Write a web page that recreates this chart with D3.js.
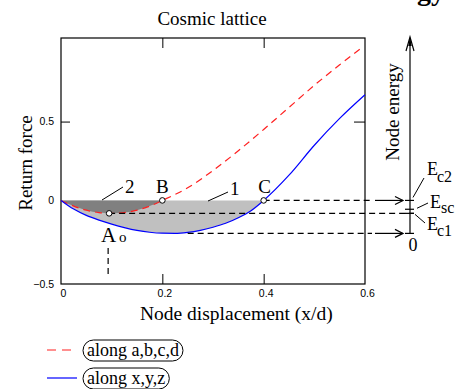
<!DOCTYPE html>
<html>
<head>
<meta charset="utf-8">
<style>
  body { margin: 0; background: #fff; }
  svg { display: block; font-family: "Liberation Serif", "Times New Roman", serif; }
  .tick text { font-family: "Liberation Sans", Arial, sans-serif; font-size: 10.5px; fill: #000; }
  .tick line { stroke: #000; }
  .lbl { font-size: 19px; fill: #000; }
  .guide { stroke: #000; stroke-width: 1.2; stroke-dasharray: 6,4; fill: none; }
  .solid { stroke: #000; stroke-width: 1.2; fill: none; }
</style>
</head>
<body>
<script src="https://cdn.jsdelivr.net/npm/d3@7"></script>
<script>

// values
var redX  = [0, 0.025, 0.05, 0.075, 0.1, 0.125, 0.15, 0.175, 0.2, 0.25, 0.3, 0.35, 0.4, 0.45, 0.5, 0.55, 0.59],
    redY  = [0, -0.036, -0.062, -0.077, -0.082, -0.077, -0.062, -0.036, 0, 0.08, 0.19, 0.315, 0.45, 0.59, 0.73, 0.86, 0.96],
    blueX = [0, 0.025, 0.05, 0.075, 0.1, 0.125, 0.15, 0.175, 0.2, 0.225, 0.25, 0.275, 0.3, 0.325, 0.35, 0.375, 0.4, 0.45, 0.5, 0.55, 0.6],
    blueY = [0, -0.055, -0.095, -0.125, -0.15, -0.172, -0.19, -0.202, -0.208, -0.209, -0.203, -0.19, -0.17, -0.145, -0.11, -0.065, 0, 0.16, 0.35, 0.52, 0.67],
    xTicks = [0, 0.2, 0.4, 0.6],
    yTicks = [-0.53, 0, 0.5],
    pointNames = ["A", "B", "C"],
    pointX = [0.095, 0.2, 0.4],
    pointY = [-0.082, 0, 0],
    energyY = [0, -0.056, -0.082, -0.209],
    energySubs = ["c2", "sc", "c1"],
    legendNames = ["along a,b,c,d", "along x,y,z"];

var width = 461, height = 389,
    mLeft = 61, mRight = 365, mTop = 38, mBottom = 284,
    eAxisX = 410;

var x = d3.scaleLinear().domain([0, 0.6]).range([mLeft, mRight]);
var y = d3.scaleLinear().domain([-0.53, 1.03]).range([mBottom, mTop]);

var svg = d3.select("body").append("svg")
    .attr("width", width)
    .attr("height", height);

var redPts = redX.map(function(d, i) { return [d, redY[i]]; }),
    bluePts = blueX.map(function(d, i) { return [d, blueY[i]]; });

var area = d3.area()
    .curve(d3.curveMonotoneX)
    .x(function(d) { return x(d[0]); })
    .y0(y(0))
    .y1(function(d) { return y(d[1]); });

var line = d3.line()
    .curve(d3.curveMonotoneX)
    .x(function(d) { return x(d[0]); })
    .y(function(d) { return y(d[1]); });

// shaded regions 1 and 2
svg.append("path")
    .attr("d", area(bluePts.filter(function(d) { return d[0] <= pointX[2]; })))
    .attr("fill", "#c0c0c0");
svg.append("path")
    .attr("d", area(redPts.filter(function(d) { return d[0] <= pointX[1]; })))
    .attr("fill", "#808080");

// frame and ticks
svg.append("rect")
    .attr("x", mLeft).attr("y", mTop)
    .attr("width", mRight - mLeft).attr("height", mBottom - mTop)
    .attr("fill", "none").attr("stroke", "#000").attr("stroke-width", 1.2);

var fmt = function(d) { return d === 0 ? "0" : d3.format(".1f")(d); };

var xAxis = svg.append("g")
    .attr("transform", "translate(0," + mBottom + ")")
    .call(d3.axisBottom(x).tickValues(xTicks).tickSizeInner(-10).tickSizeOuter(0).tickPadding(6).tickFormat(fmt));
xAxis.select(".domain").remove();
xAxis.selectAll(".tick text").attr("dx", "2");
xAxis.selectAll(".tick line").filter(function(d) { return d === 0 || d === 0.6; }).remove();

var yAxis = svg.append("g")
    .attr("transform", "translate(" + mLeft + ",0)")
    .call(d3.axisLeft(y).tickValues(yTicks).tickSizeInner(-9).tickSizeOuter(0).tickPadding(7).tickFormat(fmt));
yAxis.select(".domain").remove();
yAxis.selectAll(".tick line").filter(function(d) { return d !== 0.5; }).remove();

var topAxis = svg.append("g")
    .attr("transform", "translate(0," + mTop + ")")
    .call(d3.axisTop(x).tickValues([0.2, 0.4]).tickSizeInner(-10).tickSizeOuter(0).tickFormat(""));
topAxis.select(".domain").remove();

var rightAxis = svg.append("g")
    .attr("transform", "translate(" + mRight + ",0)")
    .call(d3.axisRight(y).tickValues([0.5]).tickSizeInner(-11).tickSizeOuter(0).tickFormat(""));
rightAxis.select(".domain").remove();

// curves
svg.append("path")
    .attr("d", line(redPts))
    .attr("fill", "none")
    .attr("stroke", "#ff2020")
    .attr("stroke-width", 1.2)
    .attr("stroke-dasharray", "7,5");
svg.append("path")
    .attr("d", line(bluePts))
    .attr("fill", "none")
    .attr("stroke", "#0000ff")
    .attr("stroke-width", 1.2);

// dashed guides to the energy axis
svg.append("line").attr("class", "guide")
    .attr("x1", x(pointX[2])).attr("x2", 372)
    .attr("y1", y(energyY[0])).attr("y2", y(energyY[0]));
svg.append("line").attr("class", "guide")
    .attr("x1", x(pointX[0])).attr("x2", eAxisX + 4)
    .attr("y1", y(energyY[2])).attr("y2", y(energyY[2]));
svg.append("line").attr("class", "guide")
    .attr("x1", x(0.25)).attr("x2", 372)
    .attr("y1", y(energyY[3])).attr("y2", y(energyY[3]));
svg.append("line").attr("class", "guide")
    .attr("x1", x(pointX[0]) - 1).attr("x2", x(pointX[0]) - 1)
    .attr("y1", 248).attr("y2", 274);

[energyY[0], energyY[3]].forEach(function(v) {
  var yy = y(v);
  svg.append("line").attr("class", "solid")
      .attr("x1", 375).attr("x2", 403).attr("y1", yy).attr("y2", yy);
  svg.append("path").attr("class", "solid")
      .attr("d", "M395," + (yy - 4) + "L403," + yy + "L395," + (yy + 4));
});

// energy axis
svg.append("line").attr("class", "solid")
    .attr("x1", eAxisX).attr("x2", eAxisX)
    .attr("y1", 38).attr("y2", y(energyY[3]));
svg.append("path").attr("class", "solid")
    .attr("d", "M406,51L" + eAxisX + ",37L414,51");
svg.append("path")
    .attr("d", "M408.3,46L" + eAxisX + ",37L411.7,46Z")
    .attr("fill", "#000");
svg.selectAll(".etick")
    .data(energyY)
  .enter().append("line")
    .attr("class", "solid")
    .attr("x1", eAxisX - 5).attr("x2", eAxisX + 4)
    .attr("y1", function(d) { return y(d); })
    .attr("y2", function(d) { return y(d); });

// energy labels with leaders
var eLab = [
  { lead: [413, y(energyY[0]) - 3, 424, 178], ex: 427, ey: 175, sx: 437, sy: 182 },
  { lead: [417, y(energyY[1]) - 1, 428, 203], ex: 430, ey: 208, sx: 441, sy: 213 },
  { lead: [415, y(energyY[2]) + 1, 425, 223], ex: 427, ey: 230, sx: 437, sy: 236 }
];
eLab.forEach(function(o, i) {
  svg.append("line").attr("stroke", "#000").attr("stroke-width", 1)
      .attr("x1", o.lead[0]).attr("y1", o.lead[1])
      .attr("x2", o.lead[2]).attr("y2", o.lead[3]);
  svg.append("text").attr("x", o.ex).attr("y", o.ey)
      .style("font-size", "18px").text("E");
  svg.append("text").attr("x", o.sx).attr("y", o.sy)
      .style("font-size", "16px").text(energySubs[i]);
});
svg.append("text").attr("x", eAxisX + 3).attr("y", 251)
    .attr("text-anchor", "middle").style("font-size", "18px").text("0");

svg.append("text").attr("class", "lbl")
    .attr("transform", "translate(399,112) rotate(-90)")
    .attr("text-anchor", "middle")
    .text("Node energy");

// point markers
svg.selectAll(".pt")
    .data(pointX)
  .enter().append("circle")
    .attr("cx", function(d) { return x(d); })
    .attr("cy", function(d, i) { return y(pointY[i]); })
    .attr("r", 2.8)
    .attr("fill", "#fff")
    .attr("stroke", "#000")
    .attr("stroke-width", 1);

svg.append("text").attr("class", "lbl")
    .attr("x", x(pointX[1])).attr("y", 193).attr("text-anchor", "middle").text(pointNames[1]);
svg.append("text").attr("class", "lbl")
    .attr("x", x(pointX[2]) + 1).attr("y", 193).attr("text-anchor", "middle").text(pointNames[2]);
var aText = svg.append("text").attr("class", "lbl").attr("x", 101).attr("y", 242);
aText.append("tspan").style("font-size", "21px").text(pointNames[0]);
aText.append("tspan").attr("x", 119).style("font-size", "15px").text("o");

// region labels
svg.append("line").attr("stroke", "#000").attr("x1", 102).attr("y1", 200).attr("x2", 123).attr("y2", 187);
svg.append("text").attr("class", "lbl").attr("x", 125).attr("y", 193).text("2");
svg.append("line").attr("stroke", "#000").attr("x1", 208).attr("y1", 201).attr("x2", 228).attr("y2", 192);
svg.append("text").attr("class", "lbl").attr("x", 230).attr("y", 195).text("1");

// titles
svg.append("text").attr("class", "lbl")
    .attr("x", 212).attr("y", 25).attr("text-anchor", "middle")
    .text("Cosmic lattice");
svg.append("text").attr("class", "lbl")
    .attr("x", 140).attr("y", 320)
    .style("font-size", "19.5px")
    .text("Node displacement  (x/d)");
svg.append("text").attr("class", "lbl")
    .attr("transform", "translate(32,163) rotate(-90)")
    .attr("text-anchor", "middle")
    .text("Return force");
svg.append("text")
    .attr("x", 417).attr("y", 0)
    .style("font-size", "28px").style("font-weight", "bold")
    .text("gy");

// legend
var legY = [350, 378],
    legColor = ["#ff2020", "#0000ff"],
    legDash = ["9,6", null];
legendNames.forEach(function(name, i) {
  svg.append("line")
      .attr("x1", 47).attr("x2", 77)
      .attr("y1", legY[i]).attr("y2", legY[i])
      .attr("stroke", legColor[i])
      .attr("stroke-width", 1.2)
      .attr("stroke-dasharray", legDash[i]);
  var t = svg.append("text").attr("class", "lbl")
      .attr("x", 87).attr("y", legY[i] + 6)
      .style("font-size", "18px")
      .text(name);
  var b = t.node().getBBox();
  svg.append("rect")
      .attr("x", b.x - 4).attr("y", b.y)
      .attr("width", b.width + 8).attr("height", b.height + 1)
      .attr("rx", (b.height + 1) / 2)
      .attr("fill", "none")
      .attr("stroke", "#000")
      .attr("stroke-width", 1);
});

</script>
</body>
</html>
